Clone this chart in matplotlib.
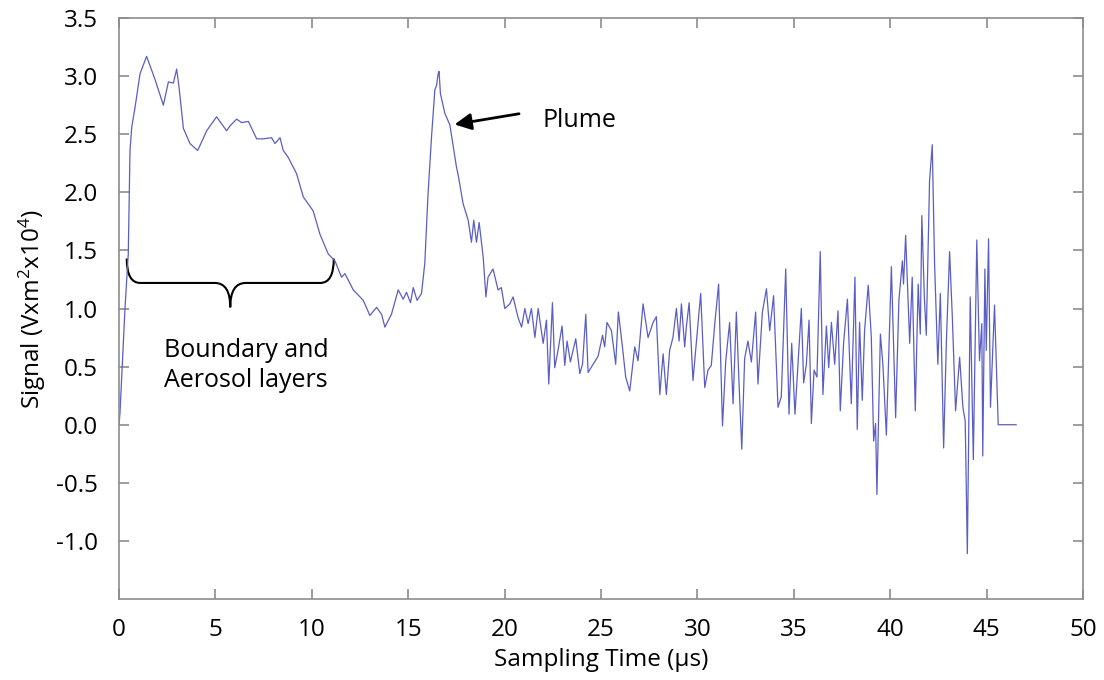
import matplotlib
matplotlib.use('Agg')
import matplotlib.pyplot as plt
from matplotlib.path import Path
from matplotlib.patches import PathPatch

plt.rcParams['font.family'] = ['Open Sans', 'DejaVu Sans']
plt.rcParams['mathtext.fontset'] = 'custom'
plt.rcParams['mathtext.rm'] = 'Open Sans'
plt.rcParams['mathtext.it'] = 'Open Sans'
plt.rcParams['axes.unicode_minus'] = False

# Sampling time (us) and signal (Vxm^2 x10^4)
cas = [0.0, 0.05, 0.31, 0.48, 0.57, 0.66, 0.83, 1.09, 1.43, 1.87, 2.30, 2.56, 2.82, 2.99, 3.11, 3.34,
       3.68, 4.08, 4.55, 5.06, 5.58, 5.75, 6.10, 6.36, 6.71, 7.14, 7.48, 7.91, 8.09, 8.35, 8.52,
       8.78, 9.21, 9.56, 10.07, 10.42, 10.85, 11.20,
       11.54, 11.72, 12.15, 12.67, 13.01, 13.36, 13.62, 13.79, 14.13, 14.48, 14.74, 14.91, 15.12,
       15.26, 15.46, 15.69, 15.86, 16.03, 16.21, 16.38, 16.47, 16.55, 16.60, 16.67, 16.90, 17.16,
       17.50, 17.59, 17.85, 18.11, 18.28, 18.40, 18.54, 18.68, 18.89, 19.03, 19.14, 19.40, 19.66,
       19.83, 20.01, 20.27, 20.44, 20.70, 20.88, 21.05, 21.22, 21.39, 21.57, 21.74,
       22.00, 22.17, 22.29, 22.48, 22.60, 22.77, 22.98, 23.12, 23.24, 23.41, 23.69, 23.90, 24.04,
       24.21, 24.33, 24.59, 24.85, 25.08, 25.19, 25.31, 25.54, 25.76, 25.90, 26.11, 26.28, 26.49,
       26.75, 26.92, 27.18, 27.44, 27.70, 27.87, 28.05, 28.22, 28.39, 28.56, 28.73, 28.91, 29.05,
       29.17, 29.34, 29.43, 29.57, 29.77, 29.95, 30.17, 30.38, 30.55, 30.72, 30.90, 31.10, 31.30,
       31.47, 31.67, 31.85, 32.02, 32.16, 32.30, 32.45, 32.62, 32.80, 33.02, 33.14, 33.37, 33.58,
       33.75,
       33.95, 34.18, 34.35, 34.58, 34.75, 34.89, 35.06, 35.39, 35.51, 35.65, 35.79, 35.91, 36.05,
       36.20, 36.37, 36.51, 36.69, 36.81, 36.95, 37.12, 37.29, 37.41, 37.58, 37.78, 37.98, 38.17,
       38.29, 38.41, 38.55, 38.67, 38.86, 39.02, 39.14, 39.24, 39.31, 39.49, 39.62, 39.80, 40.06,
       40.28, 40.45, 40.63, 40.69, 40.80, 41.01, 41.14, 41.30, 41.45, 41.56, 41.64, 41.77, 41.87,
       42.04, 42.18, 42.30, 42.47, 42.60, 42.77, 42.91, 43.08, 43.22, 43.39, 43.60, 43.77, 43.89,
       44.00, 44.15, 44.31, 44.49, 44.63, 44.75, 44.80, 44.91, 44.98, 45.10, 45.20, 45.41, 45.60,
       46.53]
signal = [0.0, 0.10, 1.00, 1.47, 2.36, 2.56, 2.73, 3.02, 3.17, 2.97, 2.75, 2.95, 2.94, 3.06, 2.91, 2.55,
          2.42, 2.36, 2.53, 2.65, 2.53, 2.57, 2.63, 2.60, 2.61, 2.46, 2.46, 2.47, 2.42, 2.47, 2.36,
          2.30, 2.16, 1.96, 1.84, 1.64, 1.47, 1.41,
          1.27, 1.30, 1.16, 1.07, 0.94, 1.01, 0.95, 0.84, 0.95, 1.16, 1.08, 1.14, 1.05,
          1.18, 1.07, 1.13, 1.39, 1.99, 2.48, 2.88, 2.92, 3.02, 3.04, 2.85, 2.68, 2.58,
          2.22, 2.15, 1.90, 1.76, 1.57, 1.76, 1.57, 1.74, 1.44, 1.10, 1.27, 1.34, 1.16,
          1.18, 1.00, 1.04, 1.10, 0.92, 0.84, 1.00, 0.87, 1.00, 0.75, 1.00,
          0.70, 0.90, 0.35, 1.05, 0.49, 0.64, 0.85, 0.51, 0.72, 0.54, 0.74, 0.44, 0.52,
          0.95, 0.45, 0.52, 0.59, 0.77, 0.67, 0.88, 0.81, 0.52, 0.97, 0.67, 0.41, 0.29,
          0.67, 0.55, 1.04, 0.75, 0.88, 0.93, 0.26, 0.61, 0.26, 0.64, 0.75, 1.00, 0.72,
          1.04, 0.67, 0.85, 1.05, 0.38, 0.72, 1.13, 0.32, 0.47, 0.51, 0.87, 1.21, -0.01,
          0.55, 0.88, 0.18, 0.97, 0.35, -0.21, 0.57, 0.72, 0.54, 0.97, 0.35, 0.97, 1.17,
          0.81,
          1.11, 0.15, 0.24, 1.34, 0.09, 0.70, 0.09, 1.00, 0.36, 0.52, 0.90, 0.01, 0.47,
          0.41, 1.49, 0.26, 0.85, 0.49, 0.88, 0.52, 0.98, 0.12, 0.70, 1.08, 0.18, 1.27,
          -0.04, 0.88, 0.21, 0.81, 1.20, 0.75, -0.14, 0.01, -0.60, 0.78, 0.52, -0.09, 1.36,
          0.06, 1.07, 1.41, 1.21, 1.63, 0.70, 1.27, 0.12, 1.21, 0.78, 1.80, 1.10, 0.77,
          2.10, 2.41, 1.39, 0.52, 1.13, -0.20, 0.70, 1.49, 0.93, 0.12, 0.58, 0.15, 0.03,
          -1.11, 1.10, -0.30, 1.59, 0.55, 0.87, -0.27, 1.34, 0.64, 1.60, 0.15, 1.03, 0.0,
          0.0]

x_ticks = [0, 5, 10, 15, 20, 25, 30, 35, 40, 45, 50]
y_ticks = [-1.0, -0.5, 0.0, 0.5, 1.0, 1.5, 2.0, 2.5, 3.0, 3.5]

fig = plt.figure(figsize=(11.04, 6.8), dpi=100)
ax = fig.add_axes([0.1078, 0.1191, 0.8732, 0.8544])

ax.plot(cas, signal, color='#5a5ec4', linewidth=0.9)

ax.set_xlim(0, 50)
ax.set_ylim(-1.5, 3.5)
ax.set_xticks(x_ticks)
ax.set_yticks(y_ticks)
ax.set_yticklabels(['%.1f' % v for v in y_ticks])

for sp in ax.spines.values():
    sp.set_color('#8c8c8c')
    sp.set_linewidth(1.2)
ax.tick_params(direction='in', length=7, width=1.2, color='#8c8c8c',
               top=True, right=True, labelsize=17.5, labelcolor='black')
ax.tick_params(axis='y', pad=15)
ax.tick_params(axis='x', pad=14)

ax.set_xlabel('Sampling Time (µs)', fontsize=17.5, labelpad=4)
ax.set_ylabel('Signal (Vxm$^2$x10$^4$)', fontsize=17.5, labelpad=6)

# složená závorka pod prvními vrstvami
x0, x1, xc = 0.40, 11.14, 5.77
ytop, yh, ytip = 1.43, 1.22, 1.01
verts = [(x0, ytop), (x0, yh), (x0 + 0.7, yh), (xc - 0.8, yh), (xc, yh), (xc, ytip),
         (xc, yh), (xc + 0.8, yh), (x1 - 0.7, yh), (x1, yh), (x1, ytop)]
codes = [Path.MOVETO, Path.CURVE3, Path.CURVE3, Path.LINETO, Path.CURVE3, Path.CURVE3,
         Path.CURVE3, Path.CURVE3, Path.LINETO, Path.CURVE3, Path.CURVE3]
ax.add_patch(PathPatch(Path(verts, codes), facecolor='none', edgecolor='black', lw=1.5))

ax.text(6.58, 0.51, 'Boundary and\nAerosol layers', ha='center', va='center',
        fontsize=18, linespacing=1.3)

ax.annotate('', xy=(17.26, 2.58), xytext=(20.89, 2.68),
            arrowprops=dict(arrowstyle='-|>', color='black', lw=2, mutation_scale=25))
ax.text(21.98, 2.62, 'Plume', ha='left', va='center', fontsize=18)

fig.savefig('out.png', dpi=100)
